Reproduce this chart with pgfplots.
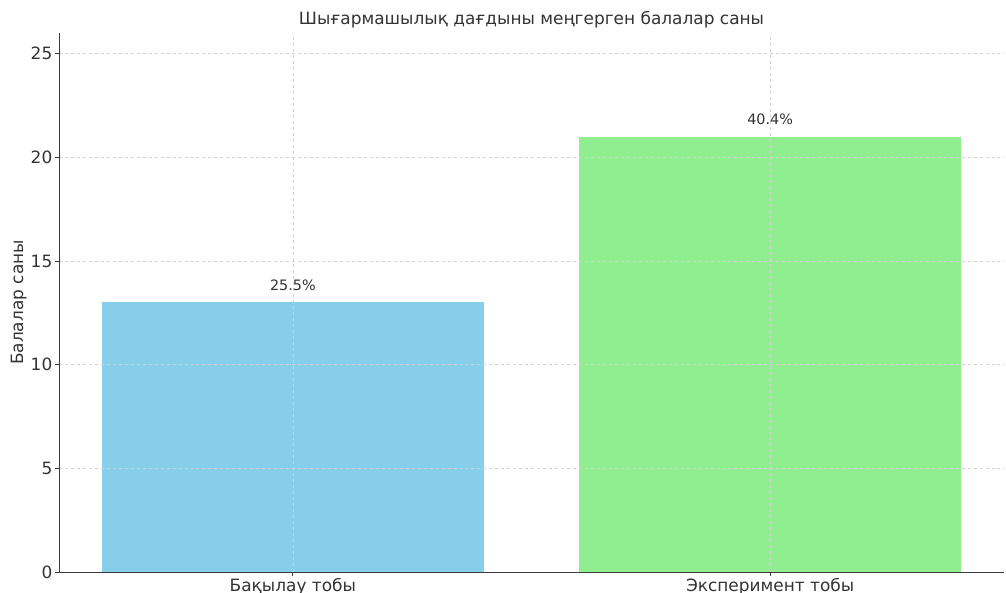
\documentclass[border=0pt]{standalone}
\usepackage{fontspec}
\setmainfont{DejaVu Sans}
\usepackage{pgfplots}
\pgfplotsset{compat=1.18}
\definecolor{skyblue}{RGB}{135,206,235}
\definecolor{lightgreen}{RGB}{144,238,144}
\definecolor{txt}{RGB}{51,51,51}
\definecolor{spine}{RGB}{60,60,60}
\begin{document}
\begin{tikzpicture}
\begin{axis}[
  scale only axis,
  width=945bp, height=539bp,
  xmin=-0.49, xmax=1.49,
  ymin=0, ymax=26,
  ybar, /pgf/bar shift=0pt, bar width=0.8,
  axis x line*=bottom, axis y line*=left,
  axis line style={-, spine, line width=0.8pt},
  xtick={0,1},
  xticklabels={Бақылау тобы, Эксперимент тобы},
  ytick={0,5,10,15,20,25},
  tick align=outside,
  major tick length=4bp,
  tick style={spine, line width=0.8pt},
  grid=major,
  major grid style={dashed, color=black!18, line width=0.6pt},
  axis on top,
  /pgf/number format/assume math mode=true,
  ticklabel style={font=\fontsize{17}{20}\selectfont, text=txt},
  yticklabel style={inner sep=2.5bp},
  xticklabel style={inner sep=2bp},
  ylabel={Балалар саны},
  ylabel style={font=\fontsize{17}{20}\selectfont, text=txt, yshift=-2bp},
  title={Шығармашылық дағдыны меңгерген балалар саны},
  title style={font=\fontsize{17}{20}\selectfont, text=txt, yshift=-5bp},
  point meta=explicit symbolic,
  nodes near coords,
  every node near coord/.append style={font=\fontsize{14.4}{17}\selectfont, text=txt, yshift=8bp},
]
\addplot[fill=skyblue, draw=none] coordinates {(0,13) [25.5\%]};
\addplot[fill=lightgreen, draw=none] coordinates {(1,21) [40.4\%]};
\end{axis}
\pgfresetboundingbox
\path (current axis.south west) ++(-59bp,-21bp) rectangle ++(1006bp,593bp);
\end{tikzpicture}
\end{document}
